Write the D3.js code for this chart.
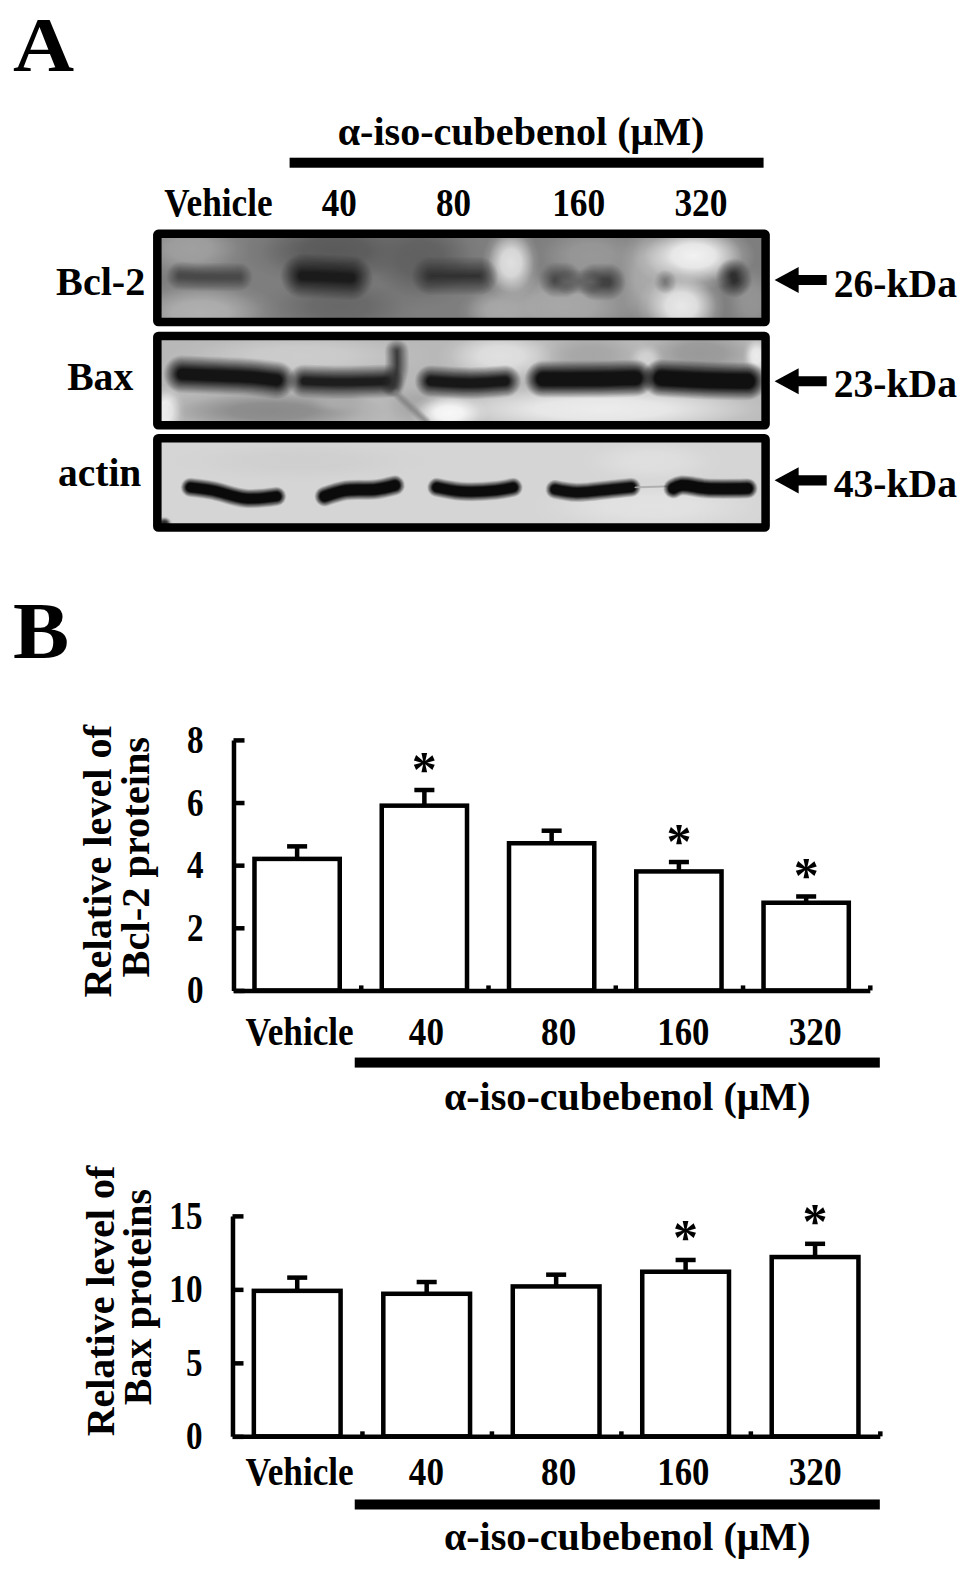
<!DOCTYPE html>
<html><head><meta charset="utf-8">
<script src="https://cdn.jsdelivr.net/npm/d3@7"></script>
<style>html,body{margin:0;padding:0;background:#fff}svg{display:block}text{font-family:"Liberation Serif",serif;font-weight:bold;fill:#000}</style>
</head><body><div id="c"></div>
<script>
const categories=["Vehicle","40","80","160","320"];
const treatmentTitle="α-iso-cubebenol (μM)";
const bcl2Values=[4.2,5.9,4.7,3.8,2.8];
const bcl2Upper=[4.6,6.4,5.1,4.1,3.0];
const bcl2Sig=[false,true,false,true,true];
const bcl2Ticks=[0,2,4,6,8];
const baxValues=[9.9,9.7,10.2,11.2,12.2];
const baxUpper=[10.8,10.5,11.0,12.0,13.1];
const baxSig=[false,false,false,true,true];
const baxTicks=[0,5,10,15];
const blotNames=["Bcl-2","Bax","actin"];
const blotSizes=["26-kDa","23-kDa","43-kDa"];

const svg=d3.select("#c").append("svg").attr("width",969).attr("height",1572).attr("viewBox","0 0 967 1568");
const defs=svg.append("defs");

function label(t,x,y,size,w){
  const s=svg.append("text").attr("x",x).attr("y",y).attr("font-size",size).text(t);
  if(w) s.attr("textLength",w).attr("lengthAdjust","spacingAndGlyphs");
  return s;
}
function vlabel(t,x,yBottom,size,len){
  svg.append("text").attr("transform",`translate(${x},${yBottom}) rotate(-90)`).attr("font-size",size)
    .attr("textLength",len).attr("lengthAdjust","spacingAndGlyphs").text(t);
}
function solid(x0,x1,y0,y1){svg.append("rect").attr("x",x0).attr("y",y0).attr("width",x1-x0).attr("height",y1-y0).attr("fill","#000");}

label("A",13,70,78,61);
label("B",13,656,80,56);

/* panel A */
label(treatmentTitle,337,144,41,366);
solid(289,762,157,167);
const headX=[[164,108],[321,35],[435,35],[551,53],[673,53]];
categories.forEach((c,i)=>label(c,headX[i][0],215,40,headX[i][1]));

const bandLine=d3.line().curve(d3.curveCatmullRom);
let gradId=0;
function softPatch(g,p){
  const id="soft"+(gradId++);
  const rg=defs.append("radialGradient").attr("id",id);
  [[0,1],[0.35,0.9],[0.6,0.5],[0.8,0.15],[1,0]].forEach(s=>rg.append("stop").attr("offset",s[0]).attr("stop-color",p[4]).attr("stop-opacity",s[1]));
  g.append("ellipse").attr("cx",p[0]).attr("cy",p[1]).attr("rx",p[2]+p[5]*2).attr("ry",p[3]+p[5]*2).attr("fill",`url(#${id})`);
}
function softBand(g,b){
  const n=16;
  let prev=0;
  for(let k=0;k<n;k++){
    const t=k/(n-1), width=b.w+3*b.b*(1-2*t), target=((k+1)/n)*0.97;
    if(width<=0.5) continue;
    const a=1-(1-target)/(1-prev); prev=target;
    g.append("path").attr("d",bandLine(b.p)).attr("fill","none").attr("stroke",b.c).attr("stroke-opacity",a)
      .attr("stroke-width",width).attr("stroke-linecap","round");
  }
}
const frames=[
 {y0:229,y1:325,bg:"#7e7e7e",
  patches:[[190,248,40,12,"#a0a0a0",10],[200,312,60,14,"#b0b0b0",10],[335,250,70,14,"#5a5a5a",12],[420,258,40,26,"#606060",12],[340,305,60,14,"#686868",10],[560,305,70,18,"#a8a8a8",12],[510,262,13,22,"#e0e0e0",8],[500,310,30,12,"#a8a8a8",7],[590,255,40,14,"#989898",10],[645,275,14,40,"#aaaaaa",10],[692,255,42,14,"#f2f2f2",10],[680,305,26,20,"#e8e8e8",9],[750,300,14,22,"#949494",7]],
  bands:[{p:[[180,275],[205,276],[238,276]],w:16,c:"#484848",b:4},{p:[[302,275],[330,276],[350,277]],w:26,c:"#1a1a1a",b:6},{p:[[430,275],[445,275],[478,275]],w:20,c:"#303030",b:6},{p:[[555,279],[563,279]],w:20,c:"#484848",b:5},{p:[[594,281],[606,281]],w:22,c:"#404040",b:5},{p:[[565,281],[590,281]],w:12,c:"#666",b:4},{p:[[664,280],[664,282]],w:10,c:"#707070",b:4},{p:[[732,275],[733,279]],w:20,c:"#2c2c2c",b:5}]},
 {y0:331,y1:428,bg:"#b8b8b8",
  patches:[[300,355,120,12,"#cccccc",7],[165,410,10,16,"#f4f4f4",5],[270,410,105,11,"#8a8a8a",6],[340,400,28,6,"#ababab",3],[415,405,25,14,"#a8a8a8",5],[600,408,175,14,"#ececec",7],[448,412,30,10,"#f8f8f8",5],[500,355,50,14,"#e0e0e0",7],[590,355,40,14,"#a6a6a6",7],[700,352,50,14,"#999",7],[755,355,8,14,"#ececec",3],[645,358,12,10,"#d2d2d2",3]],
  bands:[{p:[[182,373],[205,374],[250,376],[276,379]],w:24,c:"#101010",b:4.5},{p:[[304,380],[340,381],[386,380]],w:20,c:"#1a1a1a",b:4.5},{p:[[396,350],[396,368],[392,384]],w:12,c:"#303030",b:4},{p:[[395,392],[412,408],[425,420]],w:4,c:"#808080",b:2},{p:[[430,380],[470,382],[504,380]],w:20,c:"#141414",b:4},{p:[[542,378],[590,378],[634,377]],w:25,c:"#0e0e0e",b:4},{p:[[660,377],[700,379],[746,380]],w:26,c:"#0c0c0c",b:4}]},
 {y0:433,y1:530,bg:"#d5d5d5",
  patches:[[650,505,110,14,"#e2e2e2",7],[650,460,60,10,"#dfdfdf",7],[300,460,120,8,"#cfcfcf",7],[164,522,4,3,"#222",2]],
  bands:[{p:[[190,486],[212,489],[245,497],[276,495]],w:14,c:"#050505",b:1.8},{p:[[324,495],[345,489],[375,488],[394,484]],w:15,c:"#060606",b:1.8},{p:[[436,486],[460,490],[495,489],[512,486]],w:14,c:"#060606",b:1.8},{p:[[554,488],[575,491],[610,488],[630,486]],w:14,c:"#080808",b:1.8},{p:[[634,486],[665,485]],w:1.5,c:"#aaa",b:0.3},{p:[[672,487],[680,484],[705,487],[746,487]],w:15,c:"#050505",b:1.8}]}
];
frames.forEach((f,i)=>{
  const id="clip"+i;
  defs.append("clipPath").attr("id",id).append("rect").attr("x",155).attr("y",f.y0+2).attr("width",611).attr("height",f.y1-f.y0-4);
  const g=svg.append("g").attr("clip-path",`url(#${id})`);
  g.append("rect").attr("x",155).attr("y",f.y0).attr("width",611).attr("height",f.y1-f.y0).attr("fill",f.bg);
  f.patches.forEach(p=>softPatch(g,p));
  f.bands.forEach(b=>softBand(g,b));
  svg.append("rect").attr("x",157).attr("y",f.y0+4).attr("width",607).attr("height",f.y1-f.y0-8).attr("rx",1)
    .attr("fill","none").attr("stroke","#000").attr("stroke-width",8.5).attr("stroke-linejoin","round");
  const arrowY=[279,380,479][i];
  svg.append("path").attr("d",`M773,${arrowY}L797,${arrowY-13}V${arrowY-5}H825V${arrowY+5}H797V${arrowY+13}Z`).attr("fill","#000");
  label(blotSizes[i],832,[296,396,496][i],40,123);
  label(blotNames[i],[56,67,58][i],[294,389,485][i],40,[89,66,83][i]);
});

/* panel B */
function barChart(o){
  const x=d3.scaleBand().domain(categories).range([o.x0,o.x1]).paddingInner(o.pad).paddingOuter(o.pad/2);
  const edge=d3.scaleLinear().domain([0,5]).range([o.x0,o.x1]);
  const y=d3.scaleLinear().domain(o.domain).range([o.y0,o.yTop]);
  const g=svg.append("g");
  g.selectAll(".err").data(categories).join("g").each(function(c,i){
    const cx=x(c)+x.bandwidth()/2, s=d3.select(this);
    s.append("line").attr("x1",cx).attr("x2",cx).attr("y1",y(o.values[i])).attr("y2",y(o.upper[i])).attr("stroke","#000").attr("stroke-width",4.5);
    s.append("line").attr("x1",cx-10).attr("x2",cx+10).attr("y1",y(o.upper[i])).attr("y2",y(o.upper[i])).attr("stroke","#000").attr("stroke-width",4.5);
    if(o.sig[i]) g.append("text").attr("x",cx).attr("y",y(o.upper[i])-o.starGap).attr("text-anchor","middle").attr("font-size",50).text("*");
  });
  g.selectAll(".bar").data(categories).join("rect")
    .attr("x",c=>x(c)).attr("width",x.bandwidth())
    .attr("y",(c,i)=>y(o.values[i])).attr("height",(c,i)=>o.y0-y(o.values[i]))
    .attr("fill","#fff").attr("stroke","#000").attr("stroke-width",4.5);
  const ya=g.append("g").attr("transform",`translate(${o.x0},0)`).call(d3.axisLeft(y).tickValues(o.ticks).tickSize(-11).tickSizeOuter(0).tickFormat(""));
  const xa=g.append("g").attr("transform",`translate(0,${o.y0})`).call(d3.axisBottom(edge).tickValues([1,2,3,4,5]).tickSize(-5).tickSizeOuter(0).tickFormat(""));
  [ya,xa].forEach(a=>{a.selectAll("path,line").attr("stroke","#000").attr("stroke-width",4.5);});
  o.ticks.forEach(t=>{
    const w=String(t).length*16.5;
    label(String(t),o.x0-30-w,y(t)+13,40,w);
  });
  const xl=[[245,108],[408,35],[540,35],[656,52],[787,53]];
  categories.forEach((c,i)=>label(c,xl[i][0],o.labelY,40,xl[i][1]));
  solid(354,878,o.barY,o.barY+10);
  label(treatmentTitle,443,o.titleY,41,366);
}
barChart({x0:233,x1:868,y0:988,yTop:738,domain:[0,8],pad:0.33,values:bcl2Values,upper:bcl2Upper,sig:bcl2Sig,ticks:bcl2Ticks,starGap:4,labelY:1042,barY:1055,titleY:1107});
barChart({x0:232,x1:878,y0:1433,yTop:1213,domain:[0,15],pad:0.33,values:baxValues,upper:baxUpper,sig:baxSig,ticks:baxTicks,starGap:6,labelY:1482,barY:1496,titleY:1546});
vlabel("Relative level of",111,995,40,272);
vlabel("Bcl-2 proteins",149,975,40,240);
vlabel("Relative level of",114,1433,40,270);
vlabel("Bax proteins",151,1402,40,216);
</script></body></html>
